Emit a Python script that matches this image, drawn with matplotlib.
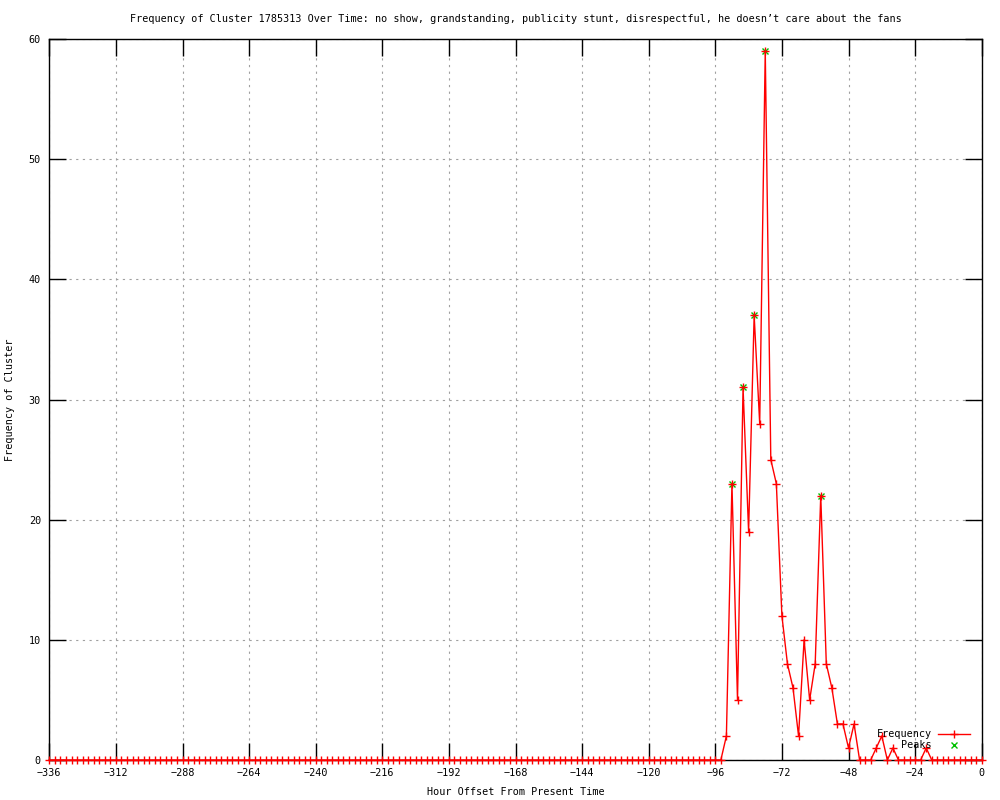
"""Gnuplot-style frequency chart for cluster 1785313."""

import matplotlib

matplotlib.use("Agg")
import matplotlib.pyplot as plt
from matplotlib.lines import Line2D
import numpy as np

plt.rcParams["font.family"] = ["DejaVu Sans Mono", "DejaVu Sans"]
plt.rcParams["font.size"] = 7.3

TITLE = ("Frequency of Cluster 1785313 Over Time: no show, grandstanding, "
         "publicity stunt, disrespectful, he doesn\u2019t care about the fans")

# hour offsets, one sample every 2 hours
hours = np.arange(-336, 1, 2)
# -336 .. -94 all zero
freq_early = [0] * 122
# -92 .. -20
freq_burst = [2, 23, 5, 31, 19, 37, 28, 59, 25, 23, 12, 8, 6, 2, 10, 5, 8, 22, 8,
              6, 3, 3, 1, 3, 0, 0, 0, 1, 2, 0, 1, 0, 0, 0, 0, 0, 1]
# -18 .. 0
freq_late = [0] * 10
freq = freq_early + freq_burst + freq_late

peak_hours = [-90, -86, -82, -78, -58]
peak_vals = [23, 31, 37, 59, 22]

x_ticks = list(range(-336, 1, 24))
y_ticks = list(range(0, 61, 10))


def main() -> None:
    fig = plt.figure(figsize=(10, 8), dpi=100)
    ax = fig.add_axes([0.0493, 0.05, 0.9324, 0.90125])

    ax.plot(peak_hours, peak_vals, linestyle="none", marker="x", color="#00c000",
            markersize=5.0, markeredgewidth=1.0, zorder=3)
    ax.plot(hours, freq, color="red", linewidth=1.0, marker="+", markersize=6.0,
            markeredgewidth=1.0, zorder=4, clip_on=False)

    ax.set_xlim(-336, 0)
    ax.set_ylim(0, 60)
    ax.set_xticks(x_ticks)
    ax.set_yticks(y_ticks)
    ax.tick_params(direction="in", length=12, width=1, top=True, right=True, pad=6,
                   labelsize=7.3)
    ax.grid(True, color="#a0a0a0", linestyle=(0, (2, 4)), linewidth=0.8)
    for sp in ax.spines.values():
        sp.set_linewidth(1.0)

    ax.set_title(TITLE, fontsize=7.3, pad=12)
    ax.set_xlabel("Hour Offset From Present Time", labelpad=6)
    ax.set_ylabel("Frequency of Cluster", labelpad=10)

    handles = [
        Line2D([], [], color="red", linewidth=1.0, marker="+", markersize=6.0),
        Line2D([], [], color="#00c000", linestyle="none", marker="x", markersize=5.0),
    ]
    ax.legend(handles, ["Frequency", "Peaks"], loc="lower right", frameon=False,
              markerfirst=False, numpoints=1, handlelength=3.2, handletextpad=0.6,
              labelspacing=0.1, borderaxespad=0.0, bbox_to_anchor=(0.992, 0.008),
              fontsize=7.3)

    fig.savefig("out.png", dpi=100)


if __name__ == "__main__":
    main()
